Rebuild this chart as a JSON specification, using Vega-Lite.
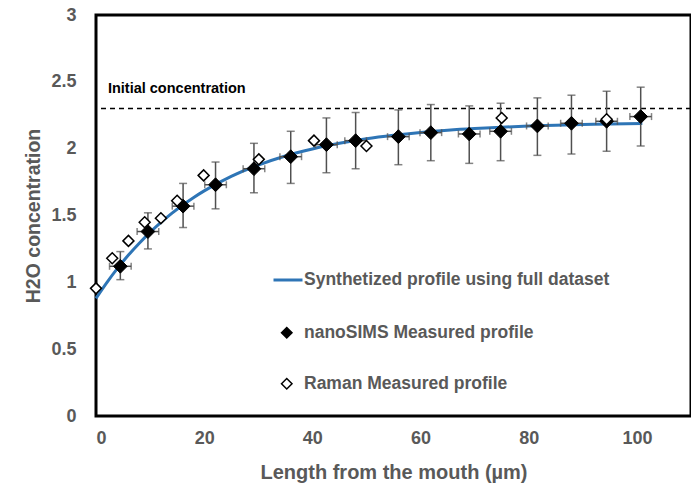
{
  "$schema": "https://vega.github.io/schema/vega-lite/v6.json",
  "width": 595,
  "height": 401,
  "autosize": {"type": "none"},
  "padding": {"left": 96, "top": 15, "right": 0, "bottom": 77},
  "background": "white",
  "config": {
    "view": {"stroke": "#000000", "strokeWidth": 3},
    "font": "Liberation Sans"
  },
  "datasets": {
    "synth": [
      {"x": 0, "y": 0.88}, {"x": 2, "y": 0.998}, {"x": 4, "y": 1.106}, {"x": 6, "y": 1.204},
      {"x": 8, "y": 1.293}, {"x": 10, "y": 1.374}, {"x": 12, "y": 1.448}, {"x": 14, "y": 1.516},
      {"x": 16, "y": 1.577}, {"x": 18, "y": 1.633}, {"x": 20, "y": 1.684}, {"x": 25, "y": 1.792},
      {"x": 30, "y": 1.877}, {"x": 35, "y": 1.945}, {"x": 40, "y": 1.998}, {"x": 45, "y": 2.04},
      {"x": 50, "y": 2.074}, {"x": 55, "y": 2.10}, {"x": 60, "y": 2.121}, {"x": 65, "y": 2.138},
      {"x": 70, "y": 2.151}, {"x": 75, "y": 2.161}, {"x": 80, "y": 2.169}, {"x": 85, "y": 2.176},
      {"x": 90, "y": 2.181}, {"x": 95, "y": 2.185}, {"x": 101, "y": 2.189}
    ],
    "nano": [
      {"series": "nanoSIMS Measured profile", "x": 4.5, "y": 1.12, "ylo": 1.02, "yhi": 1.23, "xlo": 2.5, "xhi": 6.5},
      {"series": "nanoSIMS Measured profile", "x": 9.6, "y": 1.38, "ylo": 1.25, "yhi": 1.52, "xlo": 7.6, "xhi": 11.6},
      {"series": "nanoSIMS Measured profile", "x": 16.1, "y": 1.57, "ylo": 1.41, "yhi": 1.74, "xlo": 14.1, "xhi": 18.1},
      {"series": "nanoSIMS Measured profile", "x": 22.1, "y": 1.73, "ylo": 1.55, "yhi": 1.9, "xlo": 20.1, "xhi": 24.1},
      {"series": "nanoSIMS Measured profile", "x": 29.2, "y": 1.85, "ylo": 1.67, "yhi": 2.04, "xlo": 27.2, "xhi": 31.2},
      {"series": "nanoSIMS Measured profile", "x": 36.0, "y": 1.94, "ylo": 1.74, "yhi": 2.13, "xlo": 34.0, "xhi": 38.0},
      {"series": "nanoSIMS Measured profile", "x": 42.6, "y": 2.03, "ylo": 1.82, "yhi": 2.23, "xlo": 40.6, "xhi": 44.6},
      {"series": "nanoSIMS Measured profile", "x": 48.0, "y": 2.06, "ylo": 1.85, "yhi": 2.27, "xlo": 46.0, "xhi": 50.0},
      {"series": "nanoSIMS Measured profile", "x": 55.9, "y": 2.09, "ylo": 1.88, "yhi": 2.29, "xlo": 53.9, "xhi": 57.9},
      {"series": "nanoSIMS Measured profile", "x": 61.9, "y": 2.12, "ylo": 1.91, "yhi": 2.33, "xlo": 59.9, "xhi": 63.9},
      {"series": "nanoSIMS Measured profile", "x": 69.0, "y": 2.11, "ylo": 1.89, "yhi": 2.32, "xlo": 67.0, "xhi": 71.0},
      {"series": "nanoSIMS Measured profile", "x": 74.8, "y": 2.13, "ylo": 1.91, "yhi": 2.34, "xlo": 72.8, "xhi": 76.8},
      {"series": "nanoSIMS Measured profile", "x": 81.6, "y": 2.17, "ylo": 1.95, "yhi": 2.38, "xlo": 79.6, "xhi": 83.6},
      {"series": "nanoSIMS Measured profile", "x": 87.9, "y": 2.19, "ylo": 1.96, "yhi": 2.4, "xlo": 85.9, "xhi": 89.9},
      {"series": "nanoSIMS Measured profile", "x": 94.4, "y": 2.205, "ylo": 1.98, "yhi": 2.43, "xlo": 92.4, "xhi": 96.4},
      {"series": "nanoSIMS Measured profile", "x": 100.7, "y": 2.24, "ylo": 2.02, "yhi": 2.46, "xlo": 98.7, "xhi": 102.7}
    ],
    "raman": [
      {"series": "Raman Measured profile", "x": 0, "y": 0.955},
      {"series": "Raman Measured profile", "x": 3.0, "y": 1.18},
      {"series": "Raman Measured profile", "x": 6.0, "y": 1.31},
      {"series": "Raman Measured profile", "x": 9.0, "y": 1.45},
      {"series": "Raman Measured profile", "x": 12.0, "y": 1.48},
      {"series": "Raman Measured profile", "x": 15.0, "y": 1.61},
      {"series": "Raman Measured profile", "x": 19.9, "y": 1.8},
      {"series": "Raman Measured profile", "x": 30.1, "y": 1.92},
      {"series": "Raman Measured profile", "x": 40.3, "y": 2.06},
      {"series": "Raman Measured profile", "x": 50.0, "y": 2.02},
      {"series": "Raman Measured profile", "x": 75.0, "y": 2.23},
      {"series": "Raman Measured profile", "x": 94.4, "y": 2.22}
    ]
  },
  "encoding": {
    "x": {
      "type": "quantitative",
      "scale": {"domain": [0, 110], "nice": false},
      "axis": {
        "title": "Length from the mouth (µm)",
        "values": [0, 20, 40, 60, 80, 100],
        "grid": false, "ticks": false, "domain": false,
        "labelFont": "Liberation Sans", "labelFontSize": 18, "labelFontWeight": "bold", "labelColor": "#595959",
        "labelPadding": 13,
        "titleFont": "Liberation Sans", "titleFontSize": 20, "titleFontWeight": "bold", "titleColor": "#595959",
        "titlePadding": 15
      }
    },
    "y": {
      "type": "quantitative",
      "scale": {"domain": [0, 3], "nice": false},
      "axis": {
        "title": "H2O concentration",
        "values": [0, 0.5, 1, 1.5, 2, 2.5, 3],
        "format": "~g",
        "grid": false, "ticks": false, "domain": false,
        "labelFont": "Liberation Sans", "labelFontSize": 18, "labelFontWeight": "bold", "labelColor": "#595959",
        "labelPadding": 20,
        "titleFont": "Liberation Sans", "titleFontSize": 19.5, "titleFontWeight": "bold", "titleColor": "#595959",
        "titleX": -63, "titleBaseline": "middle"
      }
    }
  },
  "layer": [
    {
      "data": {"values": [{}]},
      "mark": {"type": "rule", "color": "#000000", "strokeWidth": 1.5, "strokeDash": [5, 4]},
      "encoding": {"y": {"datum": 2.3}}
    },
    {
      "data": {"values": [{}]},
      "mark": {"type": "text", "text": "Initial concentration", "align": "left", "baseline": "middle", "fontWeight": "bold", "fontSize": 14.5, "color": "#000000"},
      "encoding": {"x": {"datum": 2.2}, "y": {"datum": 2.445}}
    },
    {
      "data": {"name": "synth"},
      "mark": {"type": "line", "strokeWidth": 3, "interpolate": "monotone"},
      "encoding": {
        "x": {"field": "x", "type": "quantitative"},
        "y": {"field": "y", "type": "quantitative"},
        "color": {"datum": "Synthetized profile using full dataset", "type": "nominal",
          "scale": {"domain": ["Synthetized profile using full dataset"], "range": ["#2e75b6"]},
          "legend": {
            "title": null, "orient": "none", "legendX": 176, "legendY": 249, "padding": 0,
            "symbolType": "stroke", "symbolSize": 841, "symbolStrokeWidth": 3,
            "labelFont": "Liberation Sans", "labelFontSize": 17.5, "labelFontWeight": "bold", "labelColor": "#595959",
            "labelOffset": 0, "labelLimit": 400
          }}
      }
    },
    {
      "data": {"name": "nano"},
      "mark": {"type": "rule", "color": "#505050", "strokeWidth": 1.5},
      "encoding": {"x": {"field": "x", "type": "quantitative"}, "y": {"field": "ylo", "type": "quantitative"}, "y2": {"field": "yhi"}}
    },
    {
      "data": {"name": "nano"},
      "mark": {"type": "tick", "orient": "horizontal", "color": "#505050", "size": 8, "thickness": 1.5},
      "encoding": {"x": {"field": "x", "type": "quantitative"}, "y": {"field": "ylo", "type": "quantitative"}}
    },
    {
      "data": {"name": "nano"},
      "mark": {"type": "tick", "orient": "horizontal", "color": "#505050", "size": 8, "thickness": 1.5},
      "encoding": {"x": {"field": "x", "type": "quantitative"}, "y": {"field": "yhi", "type": "quantitative"}}
    },
    {
      "data": {"name": "nano"},
      "mark": {"type": "rule", "color": "#505050", "strokeWidth": 1.5},
      "encoding": {"x": {"field": "xlo", "type": "quantitative"}, "x2": {"field": "xhi"}, "y": {"field": "y", "type": "quantitative"}}
    },
    {
      "data": {"name": "nano"},
      "mark": {"type": "tick", "orient": "vertical", "color": "#505050", "size": 7, "thickness": 1.5},
      "encoding": {"x": {"field": "xlo", "type": "quantitative"}, "y": {"field": "y", "type": "quantitative"}}
    },
    {
      "data": {"name": "nano"},
      "mark": {"type": "tick", "orient": "vertical", "color": "#505050", "size": 7, "thickness": 1.5},
      "encoding": {"x": {"field": "xhi", "type": "quantitative"}, "y": {"field": "y", "type": "quantitative"}}
    },
    {
      "data": {"name": "nano"},
      "mark": {"type": "point", "filled": true, "opacity": 1, "size": 190, "strokeWidth": 1},
      "encoding": {
        "x": {"field": "x", "type": "quantitative"},
        "y": {"field": "y", "type": "quantitative"},
        "shape": {"field": "series", "type": "nominal", "scale": {"domain": ["nanoSIMS Measured profile", "Raman Measured profile"], "range": ["diamond", "diamond"]},
          "legend": {
            "title": null, "orient": "none", "legendX": 182, "legendY": 309, "padding": 0,
            "rowPadding": 32, "symbolSize": 110, "symbolStrokeWidth": 1.5, "symbolOpacity": 1,
            "labelFont": "Liberation Sans", "labelFontSize": 17.5, "labelFontWeight": "bold", "labelColor": "#595959",
            "labelOffset": 8.5, "labelLimit": 400
          }},
        "fill": {"field": "series", "type": "nominal", "scale": {"domain": ["nanoSIMS Measured profile", "Raman Measured profile"], "range": ["#000000", "#ffffff"]}, "legend": {"title": null}},
        "stroke": {"field": "series", "type": "nominal", "scale": {"domain": ["nanoSIMS Measured profile", "Raman Measured profile"], "range": ["#000000", "#000000"]}, "legend": {"title": null}}
      }
    },
    {
      "data": {"name": "raman"},
      "mark": {"type": "point", "filled": true, "opacity": 1, "size": 120, "strokeWidth": 1.5},
      "encoding": {
        "x": {"field": "x", "type": "quantitative"},
        "y": {"field": "y", "type": "quantitative"},
        "shape": {"field": "series", "type": "nominal"},
        "fill": {"field": "series", "type": "nominal"},
        "stroke": {"field": "series", "type": "nominal"}
      }
    }
  ]
}
